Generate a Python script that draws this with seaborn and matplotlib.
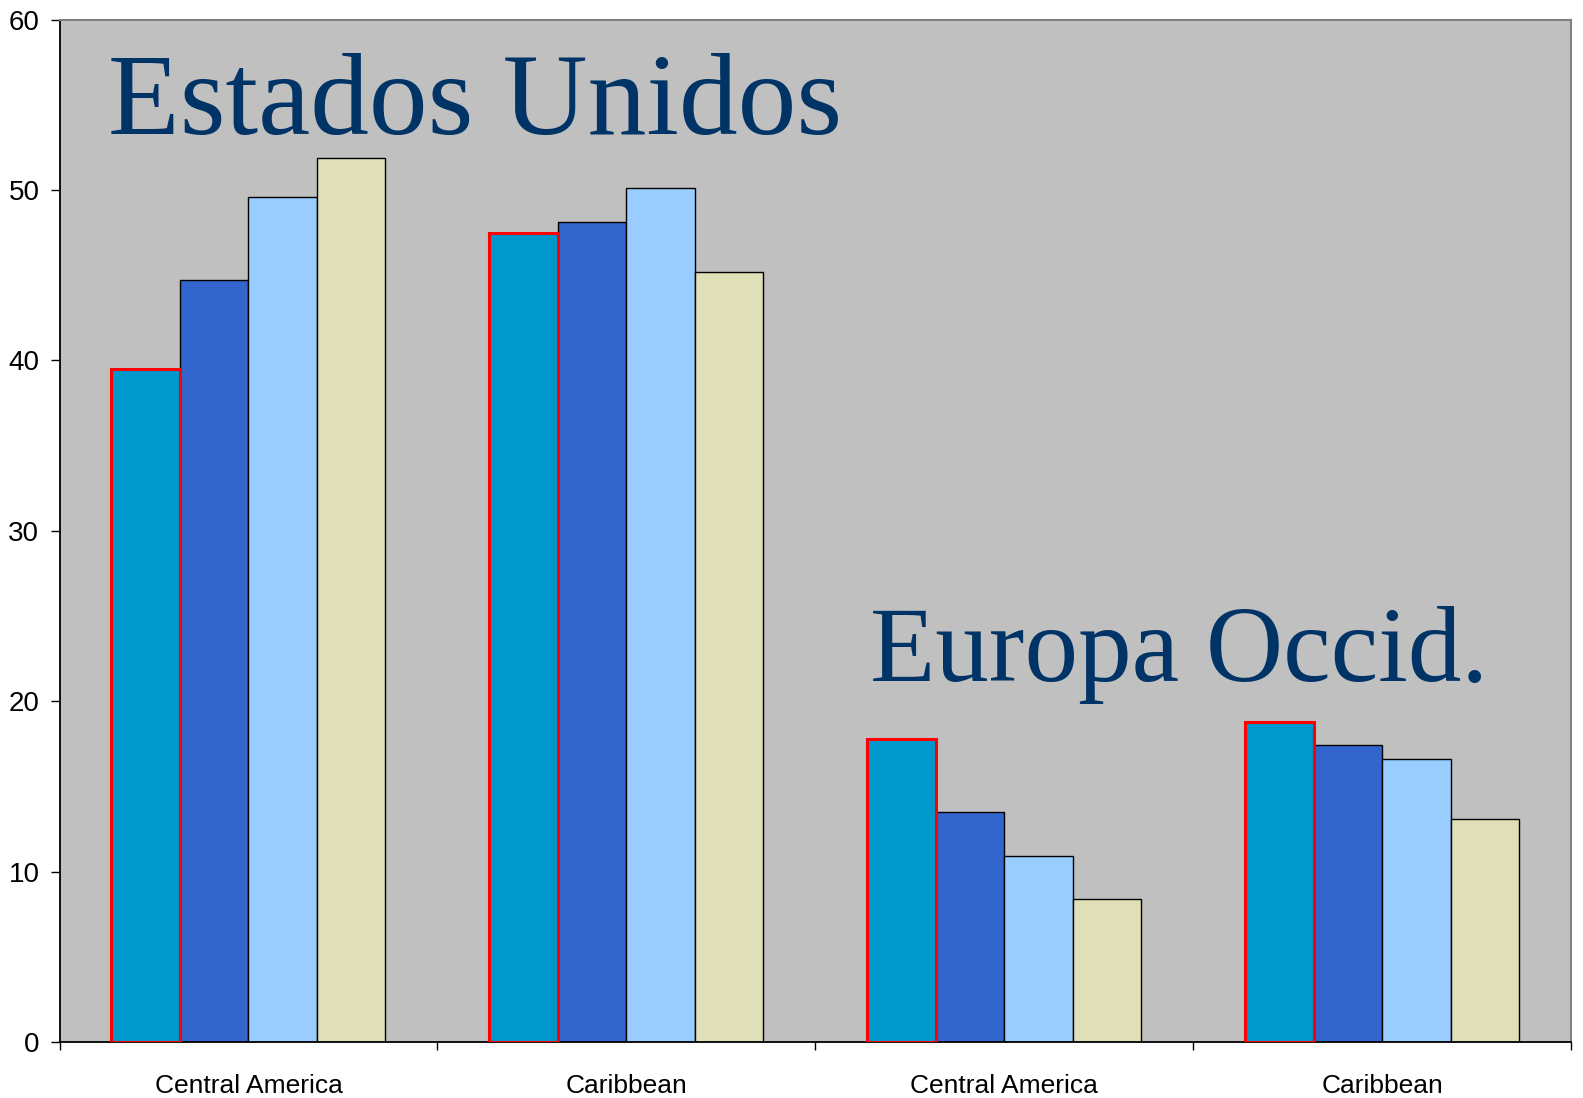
import pandas as pd
import matplotlib.pyplot as plt
import seaborn as sns
from matplotlib.ticker import FixedLocator

# --- DATA ---
groups = ['US_CA', 'US_CAR', 'EU_CA', 'EU_CAR']
group_labels = ['Central America', 'Caribbean', 'Central America', 'Caribbean']
series = ['s1', 's2', 's3', 's4']
s1 = [39.5, 47.5, 17.8, 18.8]
s2 = [44.7, 48.1, 13.5, 17.4]
s3 = [49.6, 50.1, 10.9, 16.6]
s4 = [51.9, 45.2, 8.4, 13.1]

COLORS = ['#0099CC', '#3366CC', '#99CCFF', '#E0E0B8']

rows = []
for name, vals in zip(series, [s1, s2, s3, s4]):
    for g, v in zip(groups, vals):
        rows.append({'Group': g, 'Series': name, 'Value': v})
df = pd.DataFrame(rows)

sns.set_style('white')
plt.rcParams['font.family'] = ['Liberation Sans', 'DejaVu Sans']

fig = plt.figure(figsize=(15.83, 10.98), dpi=100)
ax = fig.add_axes([0.0376, 0.051, 0.9548, 0.9312])
ax.set_facecolor('#C0C0C0')

sns.barplot(data=df, x='Group', y='Value', hue='Series', order=groups, hue_order=series,
            palette=COLORS, width=0.725, gap=0, saturation=1, edgecolor='black',
            linewidth=1.0, legend=False, ax=ax, zorder=2)

# first series has a red outline
n = len(groups)
for p in ax.patches[:n]:
    p.set_edgecolor('#FF0000')
    p.set_linewidth(2.2)
    p.set_zorder(3)

ax.set_xlim(-0.5, 3.5)
ax.set_ylim(0, 60)
ax.set_yticks(range(0, 61, 10))
ax.set_xticks(range(len(groups)))
ax.set_xticklabels(group_labels)
ax.xaxis.set_minor_locator(FixedLocator([-0.5, 0.5, 1.5, 2.5, 3.5]))
ax.tick_params(axis='x', which='major', length=0, pad=23, labelsize=19, labelcolor='black')
ax.tick_params(axis='x', which='minor', length=6, width=1, color='black', direction='out', bottom=True)
ax.tick_params(axis='y', length=6.5, width=1, color='black', direction='out', left=True, pad=8,
               labelsize=20, labelcolor='black')
ax.set_xlabel('')
ax.set_ylabel('')
ax.grid(False)

for side in ['left', 'bottom']:
    ax.spines[side].set_color('black')
    ax.spines[side].set_linewidth(1.3)
for side in ['top', 'right']:
    ax.spines[side].set_color('#808080')
    ax.spines[side].set_linewidth(1.5)

ax.text(0.032, 0.888, 'Estados Unidos', transform=ax.transAxes, ha='left', va='baseline',
        fontsize=84.5, color='#003366', family=['Liberation Serif', 'DejaVu Serif'])
ax.text(0.536, 0.3526, 'Europa Occid.', transform=ax.transAxes, ha='left', va='baseline',
        fontsize=77, color='#003366', family=['Liberation Serif', 'DejaVu Serif'])

fig.savefig('out.png', dpi=100)
